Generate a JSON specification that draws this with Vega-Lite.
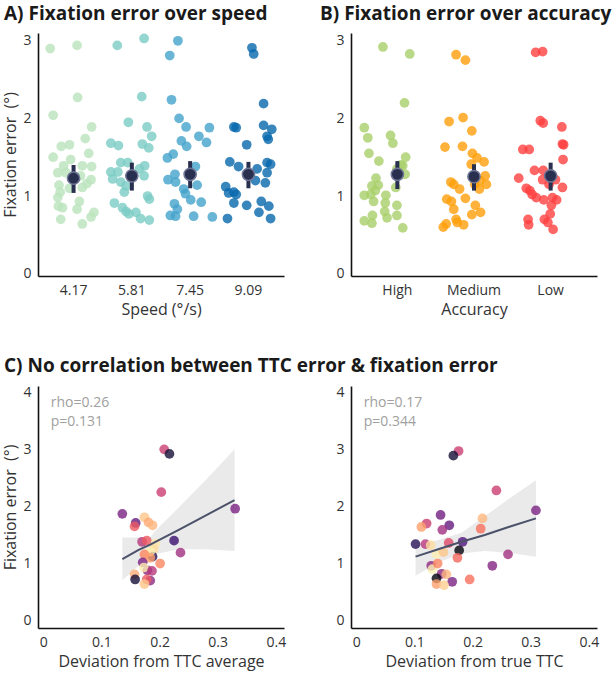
{
  "$schema": "https://vega.github.io/schema/vega-lite/v6.json",
  "padding": {"left": 2, "top": 5, "right": 5, "bottom": 5},
  "background": "white",
  "config": {
    "view": {"stroke": null},
    "font": "Open Sans",
    "axis": {"domainColor": "#111111", "domainWidth": 1.6, "ticks": false, "grid": false, "labelFont": "Open Sans", "labelFontSize": 14, "labelFontWeight": "normal", "labelColor": "#333333", "labelPadding": 7, "titleFont": "Open Sans", "titleFontSize": 16, "titleFontWeight": "normal", "titleColor": "#333333", "titlePadding": 4},
    "title": {"font": "Open Sans", "fontSize": 19, "fontWeight": "bold", "color": "#1a1a1a", "anchor": "start", "frame": "group", "offset": 9}
  },
  "datasets": {
    "speed": [
      {"s":"4.17","j":-0.40,"e":2.90},{"s":"4.17","j":0.06,"e":2.94},{"s":"4.17","j":0.07,"e":2.27},{"s":"4.17","j":-0.35,"e":2.04},{"s":"4.17","j":0.31,"e":1.89},{"s":"4.17","j":0.20,"e":1.74},{"s":"4.17","j":-0.21,"e":1.64},{"s":"4.17","j":-0.07,"e":1.66},{"s":"4.17","j":0.26,"e":1.55},{"s":"4.17","j":-0.35,"e":1.50},{"s":"4.17","j":-0.05,"e":1.47},{"s":"4.17","j":-0.17,"e":1.39},{"s":"4.17","j":0.15,"e":1.39},{"s":"4.17","j":0.31,"e":1.38},{"s":"4.17","j":-0.27,"e":1.30},{"s":"4.17","j":0.12,"e":1.26},{"s":"4.17","j":-0.13,"e":1.30},{"s":"4.17","j":0.30,"e":1.21},{"s":"4.17","j":-0.25,"e":1.14},{"s":"4.17","j":0.23,"e":1.16},{"s":"4.17","j":0.15,"e":1.11},{"s":"4.17","j":-0.07,"e":1.10},{"s":"4.17","j":-0.23,"e":1.05},{"s":"4.17","j":-0.27,"e":0.98},{"s":"4.17","j":0.10,"e":0.93},{"s":"4.17","j":0.06,"e":0.83},{"s":"4.17","j":-0.26,"e":0.87},{"s":"4.17","j":-0.19,"e":0.85},{"s":"4.17","j":0.35,"e":0.79},{"s":"4.17","j":0.30,"e":0.73},{"s":"4.17","j":-0.22,"e":0.70},{"s":"4.17","j":0.15,"e":0.64},
      {"s":"5.81","j":-0.25,"e":2.94},{"s":"5.81","j":0.21,"e":3.03},{"s":"5.81","j":0.17,"e":2.28},{"s":"5.81","j":-0.06,"e":1.95},{"s":"5.81","j":0.26,"e":1.89},{"s":"5.81","j":0.34,"e":1.77},{"s":"5.81","j":-0.36,"e":1.68},{"s":"5.81","j":-0.23,"e":1.65},{"s":"5.81","j":0.18,"e":1.67},{"s":"5.81","j":0.29,"e":1.62},{"s":"5.81","j":-0.19,"e":1.43},{"s":"5.81","j":-0.07,"e":1.43},{"s":"5.81","j":0.22,"e":1.39},{"s":"5.81","j":-0.36,"e":1.31},{"s":"5.81","j":-0.24,"e":1.31},{"s":"5.81","j":0.13,"e":1.35},{"s":"5.81","j":-0.33,"e":1.22},{"s":"5.81","j":-0.19,"e":1.18},{"s":"5.81","j":0.21,"e":1.26},{"s":"5.81","j":-0.10,"e":1.13},{"s":"5.81","j":-0.13,"e":1.05},{"s":"5.81","j":0.27,"e":1.00},{"s":"5.81","j":0.30,"e":0.96},{"s":"5.81","j":-0.30,"e":0.91},{"s":"5.81","j":-0.16,"e":0.85},{"s":"5.81","j":-0.10,"e":0.80},{"s":"5.81","j":0.07,"e":0.79},{"s":"5.81","j":-0.05,"e":0.77},{"s":"5.81","j":0.15,"e":0.71},{"s":"5.81","j":0.30,"e":0.69},
      {"s":"7.45","j":-0.21,"e":3.00},{"s":"7.45","j":-0.35,"e":2.81},{"s":"7.45","j":-0.32,"e":2.24},{"s":"7.45","j":-0.19,"e":2.00},{"s":"7.45","j":-0.07,"e":1.89},{"s":"7.45","j":0.33,"e":1.88},{"s":"7.45","j":0.15,"e":1.77},{"s":"7.45","j":-0.15,"e":1.71},{"s":"7.45","j":0.28,"e":1.69},{"s":"7.45","j":-0.06,"e":1.64},{"s":"7.45","j":-0.29,"e":1.54},{"s":"7.45","j":-0.39,"e":1.49},{"s":"7.45","j":0.09,"e":1.38},{"s":"7.45","j":-0.38,"e":1.21},{"s":"7.45","j":-0.26,"e":1.28},{"s":"7.45","j":-0.25,"e":1.18},{"s":"7.45","j":0.12,"e":1.14},{"s":"7.45","j":-0.11,"e":1.09},{"s":"7.45","j":-0.08,"e":1.03},{"s":"7.45","j":0.01,"e":0.95},{"s":"7.45","j":0.19,"e":0.92},{"s":"7.45","j":-0.27,"e":0.90},{"s":"7.45","j":-0.22,"e":0.83},{"s":"7.45","j":-0.34,"e":0.75},{"s":"7.45","j":0.06,"e":0.74},{"s":"7.45","j":0.38,"e":0.73},{"s":"7.45","j":-0.25,"e":0.74},
      {"s":"9.09","j":0.06,"e":2.91},{"s":"9.09","j":0.09,"e":2.83},{"s":"9.09","j":0.26,"e":2.19},{"s":"9.09","j":-0.25,"e":1.89},{"s":"9.09","j":-0.21,"e":1.88},{"s":"9.09","j":0.26,"e":1.91},{"s":"9.09","j":0.40,"e":1.86},{"s":"9.09","j":0.32,"e":1.77},{"s":"9.09","j":0.34,"e":1.73},{"s":"9.09","j":-0.03,"e":1.66},{"s":"9.09","j":-0.32,"e":1.44},{"s":"9.09","j":-0.17,"e":1.38},{"s":"9.09","j":0.32,"e":1.43},{"s":"9.09","j":0.38,"e":1.41},{"s":"9.09","j":0.15,"e":1.35},{"s":"9.09","j":0.32,"e":1.30},{"s":"9.09","j":0.12,"e":1.20},{"s":"9.09","j":0.29,"e":1.17},{"s":"9.09","j":-0.39,"e":1.12},{"s":"9.09","j":-0.25,"e":1.05},{"s":"9.09","j":-0.34,"e":1.04},{"s":"9.09","j":-0.21,"e":1.02},{"s":"9.09","j":-0.25,"e":0.91},{"s":"9.09","j":-0.03,"e":0.88},{"s":"9.09","j":0.22,"e":0.93},{"s":"9.09","j":0.35,"e":0.87},{"s":"9.09","j":0.18,"e":0.79},{"s":"9.09","j":-0.36,"e":0.71},{"s":"9.09","j":0.38,"e":0.71}
    ],
    "speedMean": [
      {"s":"4.17","m":1.23,"lo":1.04,"hi":1.40},
      {"s":"5.81","m":1.26,"lo":1.07,"hi":1.43},
      {"s":"7.45","m":1.28,"lo":1.10,"hi":1.45},
      {"s":"9.09","m":1.28,"lo":1.10,"hi":1.44}
    ],
    "acc": [
      {"a":"High","j":-0.09,"e":2.92},{"a":"High","j":0.37,"e":2.83},{"a":"High","j":0.28,"e":2.20},{"a":"High","j":-0.41,"e":1.88},{"a":"High","j":-0.35,"e":1.75},{"a":"High","j":0.04,"e":1.78},{"a":"High","j":0.08,"e":1.68},{"a":"High","j":-0.33,"e":1.55},{"a":"High","j":0.30,"e":1.50},{"a":"High","j":-0.16,"e":1.45},{"a":"High","j":0.22,"e":1.40},{"a":"High","j":0.25,"e":1.39},{"a":"High","j":0.15,"e":1.35},{"a":"High","j":0.29,"e":1.28},{"a":"High","j":-0.21,"e":1.23},{"a":"High","j":-0.17,"e":1.14},{"a":"High","j":-0.28,"e":1.13},{"a":"High","j":0.13,"e":1.11},{"a":"High","j":-0.22,"e":1.07},{"a":"High","j":-0.41,"e":1.01},{"a":"High","j":-0.30,"e":1.02},{"a":"High","j":-0.04,"e":1.01},{"a":"High","j":-0.25,"e":0.93},{"a":"High","j":-0.05,"e":0.91},{"a":"High","j":0.15,"e":0.88},{"a":"High","j":-0.06,"e":0.80},{"a":"High","j":-0.27,"e":0.75},{"a":"High","j":0.15,"e":0.75},{"a":"High","j":-0.41,"e":0.68},{"a":"High","j":-0.28,"e":0.65},{"a":"High","j":-0.02,"e":0.72},{"a":"High","j":0.25,"e":0.59},
      {"a":"Medium","j":-0.15,"e":2.82},{"a":"Medium","j":0.01,"e":2.75},{"a":"Medium","j":-0.27,"e":1.96},{"a":"Medium","j":-0.03,"e":2.01},{"a":"Medium","j":0.12,"e":1.84},{"a":"Medium","j":-0.34,"e":1.63},{"a":"Medium","j":-0.04,"e":1.64},{"a":"Medium","j":0.13,"e":1.55},{"a":"Medium","j":0.21,"e":1.49},{"a":"Medium","j":0.33,"e":1.44},{"a":"Medium","j":0.11,"e":1.41},{"a":"Medium","j":-0.24,"e":1.18},{"a":"Medium","j":-0.19,"e":1.15},{"a":"Medium","j":-0.09,"e":1.09},{"a":"Medium","j":0.17,"e":1.15},{"a":"Medium","j":0.26,"e":1.20},{"a":"Medium","j":0.35,"e":1.26},{"a":"Medium","j":0.37,"e":1.15},{"a":"Medium","j":0.25,"e":1.09},{"a":"Medium","j":0.01,"e":0.97},{"a":"Medium","j":-0.31,"e":0.96},{"a":"Medium","j":-0.23,"e":0.93},{"a":"Medium","j":-0.19,"e":0.83},{"a":"Medium","j":0.18,"e":0.88},{"a":"Medium","j":0.27,"e":0.79},{"a":"Medium","j":0.12,"e":0.76},{"a":"Medium","j":-0.15,"e":0.70},{"a":"Medium","j":-0.13,"e":0.66},{"a":"Medium","j":-0.02,"e":0.63},{"a":"Medium","j":-0.32,"e":0.64},{"a":"Medium","j":-0.37,"e":0.60},
      {"a":"Low","j":-0.10,"e":2.85},{"a":"Low","j":0.02,"e":2.86},{"a":"Low","j":-0.02,"e":1.97},{"a":"Low","j":0.03,"e":1.94},{"a":"Low","j":0.35,"e":1.89},{"a":"Low","j":0.36,"e":1.67},{"a":"Low","j":0.38,"e":1.66},{"a":"Low","j":-0.32,"e":1.60},{"a":"Low","j":-0.21,"e":1.60},{"a":"Low","j":0.37,"e":1.47},{"a":"Low","j":-0.12,"e":1.33},{"a":"Low","j":0.03,"e":1.33},{"a":"Low","j":-0.39,"e":1.23},{"a":"Low","j":0.02,"e":1.21},{"a":"Low","j":0.24,"e":1.21},{"a":"Low","j":0.13,"e":1.15},{"a":"Low","j":0.36,"e":1.11},{"a":"Low","j":-0.26,"e":1.10},{"a":"Low","j":-0.20,"e":1.07},{"a":"Low","j":-0.16,"e":1.02},{"a":"Low","j":-0.09,"e":0.98},{"a":"Low","j":0.04,"e":0.95},{"a":"Low","j":0.19,"e":0.98},{"a":"Low","j":0.26,"e":0.95},{"a":"Low","j":0.17,"e":0.88},{"a":"Low","j":0.15,"e":0.77},{"a":"Low","j":-0.23,"e":0.70},{"a":"Low","j":-0.22,"e":0.63},{"a":"Low","j":0.05,"e":0.70},{"a":"Low","j":0.11,"e":0.66},{"a":"Low","j":0.20,"e":0.57}
    ],
    "accMean": [
      {"a":"High","m":1.28,"lo":1.09,"hi":1.45},
      {"a":"Medium","m":1.25,"lo":1.07,"hi":1.41},
      {"a":"Low","m":1.26,"lo":1.07,"hi":1.43}
    ],
    "ttcAvg": [
      {"d":0.208,"e":3.00,"c":0.55},{"d":0.217,"e":2.92,"c":0.1},{"d":0.203,"e":2.25,"c":0.55},{"d":0.136,"e":1.87,"c":0.35},{"d":0.330,"e":1.96,"c":0.35},{"d":0.159,"e":1.71,"c":0.3},{"d":0.157,"e":1.65,"c":0.65},{"d":0.174,"e":1.81,"c":0.88},{"d":0.181,"e":1.72,"c":0.82},{"d":0.188,"e":1.67,"c":0.85},{"d":0.225,"e":1.40,"c":0.2},{"d":0.236,"e":1.19,"c":0.45},{"d":0.170,"e":1.38,"c":0.5},{"d":0.178,"e":1.40,"c":0.65},{"d":0.193,"e":1.35,"c":0.95},{"d":0.190,"e":1.25,"c":0.93},{"d":0.188,"e":1.12,"c":0.15},{"d":0.184,"e":1.21,"c":0.97},{"d":0.174,"e":1.16,"c":0.75},{"d":0.184,"e":1.10,"c":0.8},{"d":0.201,"e":1.00,"c":0.75},{"d":0.171,"e":1.02,"c":0.35},{"d":0.179,"e":0.88,"c":0.4},{"d":0.173,"e":0.93,"c":0.97},{"d":0.187,"e":0.87,"c":0.5},{"d":0.157,"e":0.81,"c":0.83},{"d":0.158,"e":0.72,"c":0.1},{"d":0.184,"e":0.70,"c":0.4},{"d":0.178,"e":0.72,"c":0.65},{"d":0.174,"e":0.64,"c":0.88}
    ],
    "ttcTrue": [
      {"d":0.176,"e":2.97,"c":0.55},{"d":0.167,"e":2.89,"c":0.1},{"d":0.241,"e":2.28,"c":0.55},{"d":0.309,"e":1.93,"c":0.35},{"d":0.145,"e":1.85,"c":0.33},{"d":0.217,"e":1.79,"c":0.85},{"d":0.214,"e":1.61,"c":0.7},{"d":0.121,"e":1.70,"c":0.55},{"d":0.112,"e":1.64,"c":0.8},{"d":0.160,"e":1.67,"c":0.3},{"d":0.148,"e":1.59,"c":0.45},{"d":0.102,"e":1.34,"c":0.15},{"d":0.119,"e":1.34,"c":0.5},{"d":0.128,"e":1.32,"c":0.93},{"d":0.159,"e":1.36,"c":0.6},{"d":0.183,"e":1.38,"c":0.25},{"d":0.177,"e":1.23,"c":0.02},{"d":0.174,"e":1.10,"c":0.68},{"d":0.261,"e":1.16,"c":0.45},{"d":0.234,"e":0.96,"c":0.38},{"d":0.138,"e":1.17,"c":0.97},{"d":0.150,"e":1.20,"c":0.88},{"d":0.129,"e":0.96,"c":0.4},{"d":0.131,"e":0.90,"c":0.98},{"d":0.140,"e":1.00,"c":0.75},{"d":0.147,"e":0.82,"c":0.4},{"d":0.155,"e":0.81,"c":0.85},{"d":0.138,"e":0.74,"c":0.02},{"d":0.165,"e":0.68,"c":0.35},{"d":0.195,"e":0.72,"c":0.7},{"d":0.138,"e":0.64,"c":0.8},{"d":0.151,"e":0.62,"c":0.9}
    ],
    "fitAvg": [
      {"d":0.136,"f":1.075,"lo":0.707,"hi":1.455},
      {"d":0.164,"f":1.24,"lo":0.96,"hi":1.455},
      {"d":0.184,"f":1.33,"lo":1.10,"hi":1.46},
      {"d":0.193,"f":1.38,"lo":1.16,"hi":1.58},
      {"d":0.233,"f":1.59,"lo":1.25,"hi":1.98},
      {"d":0.279,"f":1.84,"lo":1.25,"hi":2.46},
      {"d":0.329,"f":2.11,"lo":1.22,"hi":3.00}
    ],
    "fitTrue": [
      {"d":0.102,"f":1.12,"lo":0.784,"hi":1.31},
      {"d":0.141,"f":1.25,"lo":1.017,"hi":1.41},
      {"d":0.181,"f":1.38,"lo":1.175,"hi":1.54},
      {"d":0.221,"f":1.50,"lo":1.22,"hi":1.83},
      {"d":0.262,"f":1.64,"lo":1.19,"hi":2.13},
      {"d":0.309,"f":1.79,"lo":1.12,"hi":2.46}
    ],
    "stats": [
      {"panel":"avg","t1":"rho=0.26","t2":"p=0.131"},
      {"panel":"true","t1":"rho=0.17","t2":"p=0.344"}
    ]
  },
  "columns": 2,
  "spacing": {"row": 110, "column": 67},
  "bounds": "flush",
  "concat": [
    {
      "width": 246, "height": 243,
      "title": {"text": "A) Fixation error over speed", "dx": -34},
      "layer": [
        {
          "data": {"name": "speed"},
          "mark": {"type": "circle", "size": 95, "opacity": 0.8},
          "encoding": {
            "x": {"field": "s", "type": "nominal", "sort": null, "scale": {"type": "band", "paddingInner": 0, "paddingOuter": 0.11}, "axis": {"title": "Speed (°/s)", "labelAngle": 0}},
            "xOffset": {"field": "j", "type": "quantitative", "scale": {"domain": [-0.5, 0.5]}},
            "y": {"field": "e", "type": "quantitative", "scale": {"domain": [-0.03, 3.1], "nice": false, "zero": false}, "axis": {"values": [0, 1, 2, 3], "format": "d", "title": "Fixation error\u00a0 (°)"}},
            "color": {"field": "s", "type": "nominal", "legend": null, "scale": {"domain": ["4.17", "5.81", "7.45", "9.09"], "range": ["#bae4bc", "#7bccc4", "#43a2ca", "#0868ac"]}}
          }
        },
        {
          "data": {"name": "speedMean"},
          "mark": {"type": "rule", "strokeWidth": 4, "color": "#29304f"},
          "encoding": {"x": {"field": "s", "type": "nominal", "sort": null}, "y": {"field": "lo", "type": "quantitative"}, "y2": {"field": "hi"}}
        },
        {
          "data": {"name": "speedMean"},
          "mark": {"type": "circle", "size": 150, "fill": "#29304f", "opacity": 1, "stroke": "#6f7594", "strokeWidth": 1.5},
          "encoding": {"x": {"field": "s", "type": "nominal", "sort": null}, "y": {"field": "m", "type": "quantitative"}}
        }
      ]
    },
    {
      "width": 246, "height": 243,
      "title": {"text": "B) Fixation error over accuracy", "dx": -31},
      "layer": [
        {
          "data": {"name": "acc"},
          "mark": {"type": "circle", "size": 95, "opacity": 0.8},
          "encoding": {
            "x": {"field": "a", "type": "nominal", "sort": ["High", "Medium", "Low"], "scale": {"type": "band", "paddingInner": 0, "paddingOuter": 0.105}, "axis": {"title": "Accuracy", "labelAngle": 0}},
            "xOffset": {"field": "j", "type": "quantitative", "scale": {"domain": [-0.5, 0.5]}},
            "y": {"field": "e", "type": "quantitative", "scale": {"domain": [-0.03, 3.1], "nice": false, "zero": false}, "axis": {"values": [0, 1, 2, 3], "format": "d", "title": null}},
            "color": {"field": "a", "type": "nominal", "legend": null, "scale": {"domain": ["High", "Medium", "Low"], "range": ["#a9d06a", "#ff9f0a", "#ff4040"]}}
          }
        },
        {
          "data": {"name": "accMean"},
          "mark": {"type": "rule", "strokeWidth": 4, "color": "#29304f"},
          "encoding": {"x": {"field": "a", "type": "nominal", "sort": ["High", "Medium", "Low"]}, "y": {"field": "lo", "type": "quantitative"}, "y2": {"field": "hi"}}
        },
        {
          "data": {"name": "accMean"},
          "mark": {"type": "circle", "size": 150, "fill": "#29304f", "opacity": 1, "stroke": "#6f7594", "strokeWidth": 1.5},
          "encoding": {"x": {"field": "a", "type": "nominal", "sort": ["High", "Medium", "Low"]}, "y": {"field": "m", "type": "quantitative"}}
        }
      ]
    },
    {
      "width": 246, "height": 242,
      "title": {"text": "C) No correlation between TTC error & fixation error", "dx": -34},
      "layer": [
        {
          "data": {"name": "fitAvg"},
          "mark": {"type": "area", "color": "#e6e6e6", "opacity": 0.85},
          "encoding": {
            "x": {"field": "d", "type": "quantitative", "scale": {"domain": [-0.009, 0.414], "nice": false, "zero": false}, "axis": {"values": [0, 0.1, 0.2, 0.3, 0.4], "format": "~g", "title": "Deviation from TTC average"}},
            "y": {"field": "lo", "type": "quantitative", "scale": {"domain": [-0.13, 4.11], "nice": false, "zero": false}, "axis": {"values": [0, 1, 2, 3, 4], "format": "d", "title": "Fixation error\u00a0 (°)"}},
            "y2": {"field": "hi"}
          }
        },
        {
          "data": {"name": "ttcAvg"},
          "mark": {"type": "circle", "size": 95, "opacity": 0.8},
          "encoding": {
            "x": {"field": "d", "type": "quantitative"},
            "y": {"field": "e", "type": "quantitative"},
            "color": {"field": "c", "type": "quantitative", "legend": null, "scale": {"scheme": "magma", "domain": [0, 1]}}
          }
        },
        {
          "data": {"name": "fitAvg"},
          "mark": {"type": "line", "color": "#4b5269", "strokeWidth": 2},
          "encoding": {"x": {"field": "d", "type": "quantitative"}, "y": {"field": "f", "type": "quantitative"}}
        },
        {
          "data": {"name": "stats"},
          "transform": [{"filter": "datum.panel == 'avg'"}],
          "mark": {"type": "text", "align": "left", "baseline": "top", "font": "Open Sans", "fontSize": 14, "color": "#a0a0a0"},
          "encoding": {"x": {"datum": 0.013}, "y": {"datum": 3.93}, "text": {"field": "t1"}}
        },
        {
          "data": {"name": "stats"},
          "transform": [{"filter": "datum.panel == 'avg'"}],
          "mark": {"type": "text", "align": "left", "baseline": "top", "font": "Open Sans", "fontSize": 14, "color": "#a0a0a0"},
          "encoding": {"x": {"datum": 0.013}, "y": {"datum": 3.6}, "text": {"field": "t2"}}
        }
      ]
    },
    {
      "width": 246, "height": 242,
      "layer": [
        {
          "data": {"name": "fitTrue"},
          "mark": {"type": "area", "color": "#e6e6e6", "opacity": 0.85},
          "encoding": {
            "x": {"field": "d", "type": "quantitative", "scale": {"domain": [-0.009, 0.414], "nice": false, "zero": false}, "axis": {"values": [0, 0.1, 0.2, 0.3, 0.4], "format": "~g", "title": "Deviation from true TTC"}},
            "y": {"field": "lo", "type": "quantitative", "scale": {"domain": [-0.13, 4.11], "nice": false, "zero": false}, "axis": {"values": [0, 1, 2, 3, 4], "format": "d", "title": null}},
            "y2": {"field": "hi"}
          }
        },
        {
          "data": {"name": "ttcTrue"},
          "mark": {"type": "circle", "size": 95, "opacity": 0.8},
          "encoding": {
            "x": {"field": "d", "type": "quantitative"},
            "y": {"field": "e", "type": "quantitative"},
            "color": {"field": "c", "type": "quantitative", "legend": null, "scale": {"scheme": "magma", "domain": [0, 1]}}
          }
        },
        {
          "data": {"name": "fitTrue"},
          "mark": {"type": "line", "color": "#4b5269", "strokeWidth": 2},
          "encoding": {"x": {"field": "d", "type": "quantitative"}, "y": {"field": "f", "type": "quantitative"}}
        },
        {
          "data": {"name": "stats"},
          "transform": [{"filter": "datum.panel == 'true'"}],
          "mark": {"type": "text", "align": "left", "baseline": "top", "font": "Open Sans", "fontSize": 14, "color": "#a0a0a0"},
          "encoding": {"x": {"datum": 0.013}, "y": {"datum": 3.93}, "text": {"field": "t1"}}
        },
        {
          "data": {"name": "stats"},
          "transform": [{"filter": "datum.panel == 'true'"}],
          "mark": {"type": "text", "align": "left", "baseline": "top", "font": "Open Sans", "fontSize": 14, "color": "#a0a0a0"},
          "encoding": {"x": {"datum": 0.013}, "y": {"datum": 3.6}, "text": {"field": "t2"}}
        }
      ]
    }
  ]
}
